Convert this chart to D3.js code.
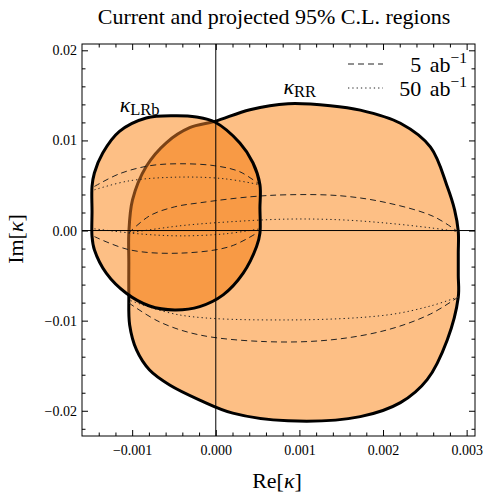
<!DOCTYPE html>
<html><head><meta charset="utf-8">
<script src="https://cdn.jsdelivr.net/npm/d3@7"></script>
<style>body{margin:0;background:#fff} svg text{font-family:"Liberation Serif","DejaVu Serif",serif}</style>
</head><body>
<svg id="c" width="483" height="493"></svg>
<script>
// ---- data ----
const xTicks = [-0.001, 0, 0.001, 0.002, 0.003];
const yTicks = [-0.02, -0.01, 0, 0.01, 0.02];
const xMinorTicks = d3.range(-7, 16).map(i => i * 0.0002);
const yMinorTicks = d3.range(-11, 11).map(i => i * 0.002);

const rrBoundary = [
  [-0.000012, 0.01211], [0.000408, 0.01341], [0.000864, 0.01408], [0.00137, 0.01386],
  [0.001728, 0.01336], [0.002208, 0.01190], [0.002568, 0.00925], [0.002768, 0.00489],
  [0.002856, 0.0023], [0.0029, -0.0001], [0.0029, -0.0025], [0.0029, -0.0050],
  [0.0029, -0.00737], [0.002768, -0.01214], [0.002528, -0.01655], [0.002208, -0.01910],
  [0.001728, -0.02065], [0.000864, -0.02111], [0.000204, -0.02026], [-0.000192, -0.01881],
  [-0.000552, -0.01714], [-0.000792, -0.01548], [-0.000948, -0.01325], [-0.00103, -0.01048],
  [-0.00104, -0.0070], [-0.00104, -0.0035], [-0.00104, -0.0003], [-0.000996, 0.00341],
  [-0.000832, 0.00711], [-0.000592, 0.00974], [-0.000312, 0.01141]
];
const lrbBoundary = [
  [-0.000492, 0.01274], [-0.000232, 0.0126], [-0.000012, 0.01204], [0.000288, 0.00971],
  [0.000444, 0.00752], [0.000528, 0.00508], [0.000528, 0.0025], [0.000528, -0.00029],
  [0.000488, -0.00178], [0.000328, -0.00473], [0.000088, -0.00714], [-0.000192, -0.00844],
  [-0.000492, -0.00881], [-0.000792, -0.00837], [-0.00107, -0.00696], [-0.00131, -0.00473],
  [-0.001452, -0.00214], [-0.00148, -0.00067], [-0.00148, 0.0021], [-0.00148, 0.00489],
  [-0.001452, 0.00638], [-0.001352, 0.0086], [-0.001152, 0.0110], [-0.000832, 0.01249]
];
// projected 5 ab^-1 (dashed) and 50 ab^-1 (dotted) contours
const rr5Top = [[-0.00104, -0.00026], [-0.000792, 0.00163], [-0.000492, 0.00263], [-0.000192, 0.00308],
  [0.000408, 0.00374], [0.000864, 0.00397], [0.001488, 0.00386], [0.002048, 0.00308],
  [0.002604, 0.00156], [0.002892, -0.00011]];
const rr5Bottom = [[0.0029, -0.00737], [0.002568, -0.00926], [0.002048, -0.01103], [0.001368, -0.01214],
  [0.000608, -0.01233], [-0.000192, -0.01159], [-0.000672, -0.01014], [-0.00104, -0.00803]];
const rr50Top = [[-0.00104, -0.00026], [-0.000432, 0.00052], [0.000168, 0.00097], [0.000864, 0.00127],
  [0.001488, 0.00119], [0.002048, 0.00082], [0.002568, 0.00030], [0.002892, -0.00011]];
const rr50Bottom = [[0.0029, -0.00737], [0.002568, -0.00837], [0.002048, -0.00937], [0.000864, -0.00992],
  [-0.000432, -0.00937], [-0.00104, -0.00770]];
const lrb5Top = [[-0.001452, 0.00489], [-0.001152, 0.0063], [-0.000792, 0.00719], [-0.000432, 0.00741],
  [-0.000012, 0.00719], [0.000288, 0.00652], [0.000528, 0.00508]];
const lrb5Bottom = [[-0.001452, -0.00067], [-0.001032, -0.00214], [-0.000432, -0.00251],
  [0.000168, -0.00178], [0.000488, -0.00029]];
const lrb50Top = [[-0.001452, 0.00452], [-0.001032, 0.00552], [-0.000432, 0.00593],
  [0.000108, 0.00574], [0.000528, 0.00508]];
const lrb50Bottom = [[-0.001452, 0.00019], [-0.000912, -0.00037], [-0.000432, -0.00059],
  [0.000108, -0.00037], [0.000528, 0.00019]];

const legendLabels = ["5 ab", "50 ab"];

// ---- layout ----
const L = 82, R = 475, T = 44, B = 436;
const svg = d3.select("#c");
const x = d3.scaleLinear().domain([-0.0016, 0.0031]).range([L, R]);
const y = d3.scaleLinear().domain([-0.0228, 0.0207]).range([B, T]);

const closed = d3.line().x(d => x(d[0])).y(d => y(d[1])).curve(d3.curveCatmullRomClosed.alpha(0.5));
const open = d3.line().x(d => x(d[0])).y(d => y(d[1])).curve(d3.curveCatmullRom.alpha(0.5));

const light = "#fdbf85", dark = "#f89a45";
const defs = svg.append("defs");
defs.append("clipPath").attr("id", "clipRR").append("path").attr("d", closed(rrBoundary));
defs.append("clipPath").attr("id", "clipLRb").append("path").attr("d", closed(lrbBoundary));
defs.append("clipPath").attr("id", "clipFrame").append("rect").attr("x", L).attr("y", T).attr("width", R - L).attr("height", B - T);

const plot = svg.append("g").attr("clip-path", "url(#clipFrame)");
plot.append("path").attr("d", closed(rrBoundary)).attr("fill", light);
plot.append("path").attr("d", closed(rrBoundary)).attr("fill", "none").attr("stroke", "#000").attr("stroke-width", 3);
plot.append("path").attr("d", closed(lrbBoundary)).attr("fill", light);
plot.append("path").attr("d", closed(lrbBoundary)).attr("fill", dark).attr("clip-path", "url(#clipRR)");
plot.append("path").attr("d", closed(rrBoundary)).attr("fill", "none").attr("stroke", "#7a4216").attr("stroke-width", 3).attr("clip-path", "url(#clipLRb)");

const dashed = "6,4", dotted = "1.3,3";
[[rr5Top, dashed], [rr5Bottom, dashed], [lrb5Top, dashed], [lrb5Bottom, dashed],
 [rr50Top, dotted], [rr50Bottom, dotted], [lrb50Top, dotted], [lrb50Bottom, dotted]].forEach(([pts, da]) => {
  plot.append("path").attr("d", open(pts)).attr("fill", "none").attr("stroke", "#222")
    .attr("stroke-width", 1).attr("stroke-dasharray", da);
});

plot.append("path").attr("d", closed(lrbBoundary)).attr("fill", "none").attr("stroke", "#000").attr("stroke-width", 3);

// zero axes lines
plot.append("line").attr("x1", x(0)).attr("x2", x(0)).attr("y1", T).attr("y2", B).attr("stroke", "#000").attr("stroke-width", 1);
plot.append("line").attr("x1", L).attr("x2", R).attr("y1", y(0)).attr("y2", y(0)).attr("stroke", "#000").attr("stroke-width", 1);

// frame
svg.append("rect").attr("x", L).attr("y", T).attr("width", R - L).attr("height", B - T)
  .attr("fill", "none").attr("stroke", "#000").attr("stroke-width", 1);

// axes
function styleAxis(g) {
  g.select(".domain").remove();
  g.selectAll("text").attr("font-family", "Liberation Serif").attr("font-size", 14).attr("fill", "#000");
  g.selectAll("line").attr("stroke", "#000");
}
const xMinor = xMinorTicks.filter(v => !xTicks.some(t => Math.abs(t - v) < 1e-9));
const yMinor = yMinorTicks.filter(v => !yTicks.some(t => Math.abs(t - v) < 1e-9));
svg.append("g").attr("transform", `translate(0,${B})`)
  .call(d3.axisBottom(x).tickValues(xTicks).tickSize(-6).tickPadding(9).tickFormat(d3.format(".3f"))).call(styleAxis);
svg.append("g").attr("transform", `translate(0,${B})`)
  .call(d3.axisBottom(x).tickValues(xMinor).tickSize(-3.5).tickFormat("")).call(styleAxis);
svg.append("g").attr("transform", `translate(0,${T})`)
  .call(d3.axisTop(x).tickValues(xTicks).tickSize(-6).tickFormat("")).call(styleAxis);
svg.append("g").attr("transform", `translate(0,${T})`)
  .call(d3.axisTop(x).tickValues(xMinor).tickSize(-3.5).tickFormat("")).call(styleAxis);
svg.append("g").attr("transform", `translate(${L},0)`)
  .call(d3.axisLeft(y).tickValues(yTicks).tickSize(-6).tickPadding(5).tickFormat(d3.format(".2f"))).call(styleAxis);
svg.append("g").attr("transform", `translate(${L},0)`)
  .call(d3.axisLeft(y).tickValues(yMinor).tickSize(-3.5).tickFormat("")).call(styleAxis);
svg.append("g").attr("transform", `translate(${R},0)`)
  .call(d3.axisRight(y).tickValues(yTicks).tickSize(-6).tickFormat("")).call(styleAxis);
svg.append("g").attr("transform", `translate(${R},0)`)
  .call(d3.axisRight(y).tickValues(yMinor).tickSize(-3.5).tickFormat("")).call(styleAxis);

// title & axis labels
svg.append("text").attr("x", 274).attr("y", 24).attr("text-anchor", "middle").attr("font-size", 22)
  .text("Current and projected 95% C.L. regions");
const xl = svg.append("text").attr("x", 277).attr("y", 488).attr("text-anchor", "middle").attr("font-size", 22);
xl.append("tspan").text("Re[");
xl.append("tspan").attr("font-style", "italic").text("κ");
xl.append("tspan").text("]");
const yl = svg.append("text").attr("transform", "translate(23,239) rotate(-90)").attr("text-anchor", "middle").attr("font-size", 22);
yl.append("tspan").text("Im[");
yl.append("tspan").attr("font-style", "italic").text("κ");
yl.append("tspan").text("]");

// region labels
function kLabel(px, py, sub) {
  const t = svg.append("text").attr("x", px).attr("y", py);
  t.append("tspan").attr("font-style", "italic").attr("font-size", 22).text("κ");
  t.append("tspan").attr("font-size", 16.5).attr("dy", 3).text(sub);
}
kLabel(x(-0.00115), y(0.0132), "LRb");
kLabel(x(0.00081), y(0.0152), "RR");

// legend
const lg = svg.append("g");
[[dashed, 64, 72], [dotted, 88, 96]].forEach(([da, ly, ty], i) => {
  lg.append("line").attr("x1", 348).attr("x2", 383).attr("y1", ly).attr("y2", ly)
    .attr("stroke", "#222").attr("stroke-width", 1).attr("stroke-dasharray", da);
  const t = lg.append("text").attr("x", 467).attr("y", ty).attr("text-anchor", "end").attr("font-size", 22)
    .attr("word-spacing", 3);
  t.append("tspan").text(legendLabels[i]);
  t.append("tspan").attr("font-size", 15.5).attr("dy", -9).text("−1");
});
</script>
</body></html>
